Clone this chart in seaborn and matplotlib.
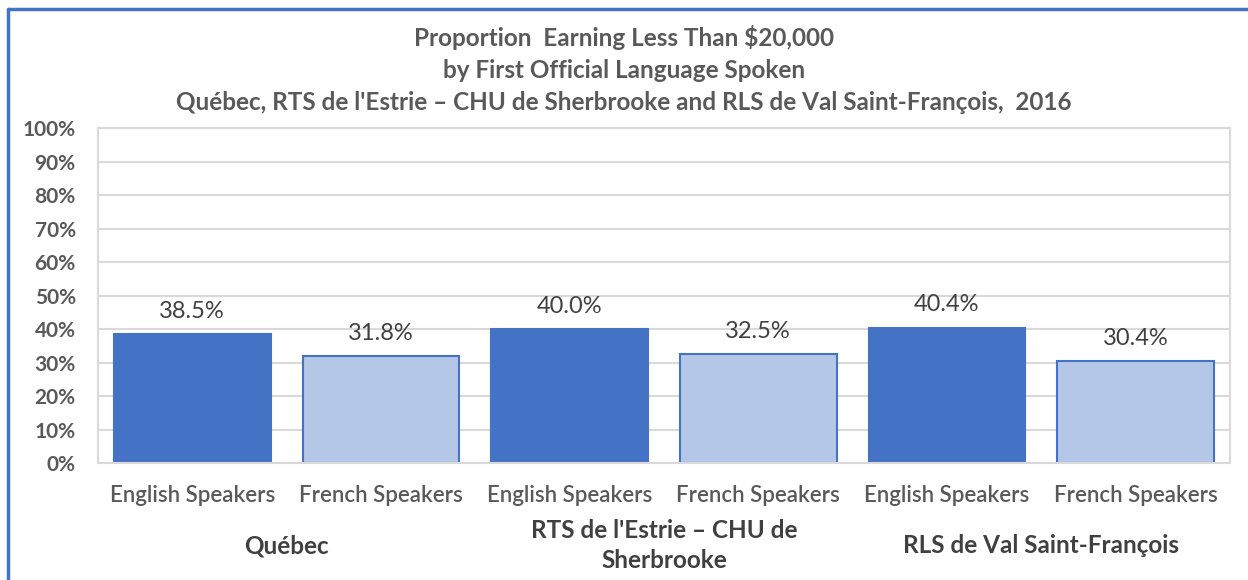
import numpy as np
import pandas as pd
import matplotlib.pyplot as plt
import seaborn as sns

# data
regions = ["Québec", "RTS de l'Estrie – CHU de\nSherbrooke", "RLS de Val Saint-François"]
languages = ["English Speakers", "French Speakers"]
english = [38.5, 40.0, 40.4]
french = [31.8, 32.5, 30.4]

rows = []
for i, r in enumerate(regions):
    rows.append({"slot": f"{i}-E", "language": languages[0], "value": english[i]})
    rows.append({"slot": f"{i}-F", "language": languages[1], "value": french[i]})
df = pd.DataFrame(rows)

sns.set_style("white")
plt.rcParams['font.family'] = ['Lato', 'DejaVu Sans']

fig = plt.figure(figsize=(12.48, 5.8), dpi=100)
ax = fig.add_axes([0.0785, 0.2017, 0.907, 0.5776])

palette = {"English Speakers": "#4472C4", "French Speakers": "#B4C7E7"}
sns.barplot(data=df, x="slot", y="value", hue="language", palette=palette,
            dodge=False, width=0.83, legend=False, ax=ax, saturation=1)

for cont in ax.containers:
    for bar in cont:
        bar.set_edgecolor("#4472C4")
        bar.set_linewidth(1.5)
    ax.bar_label(cont, fmt="%.1f%%", padding=9, fontsize=17, color="#404040")

ax.set_ylim(0, 100)
ax.set_xlim(-0.5, 5.5)
ax.set_yticks(np.arange(0, 101, 10))
ax.set_yticklabels([f"{v}%" for v in range(0, 101, 10)], fontsize=15,
                   fontweight="bold", color="#595959")
ax.set_xticks(range(6))
ax.set_xticklabels(languages * 3, fontsize=16, fontweight="semibold", color="#595959")
ax.tick_params(axis="x", length=0, pad=16)
ax.tick_params(axis="y", length=0, pad=16)
ax.set_xlabel("")
ax.set_ylabel("")
ax.yaxis.grid(True, color="#D9D9D9", linewidth=1.5)
ax.set_axisbelow(True)
for s in ax.spines.values():
    s.set_visible(True)
    s.set_color("#D9D9D9")
    s.set_linewidth(1.5)

# group labels under the tick labels
for i, r in enumerate(regions):
    ax.text(2 * i + 0.5, -24.7, r, transform=ax.transData, ha="center", va="center",
            fontsize=17.5, fontweight="bold", color="#404040", linespacing=1.35,
            clip_on=False)

title_lines = ["Proportion  Earning Less Than $20,000",
               "by First Official Language Spoken",
               "Québec, RTS de l'Estrie – CHU de Sherbrooke and RLS de Val Saint-François,  2016"]
for k, line in enumerate(title_lines):
    fig.text(0.5, 1 - (38 + 32 * k) / 580, line, ha="center", va="center",
             fontsize=17.5, fontweight="bold", color="#595959")

# chart frame (left and top edges visible)
fig.add_artist(plt.Line2D([8 / 1248, 8 / 1248], [0, 1 - 9 / 580], color="#4472C4", linewidth=2.5))
fig.add_artist(plt.Line2D([8 / 1248, 1], [1 - 9 / 580, 1 - 9 / 580], color="#4472C4", linewidth=2.5))

fig.savefig("out.png", dpi=100, facecolor="white")
